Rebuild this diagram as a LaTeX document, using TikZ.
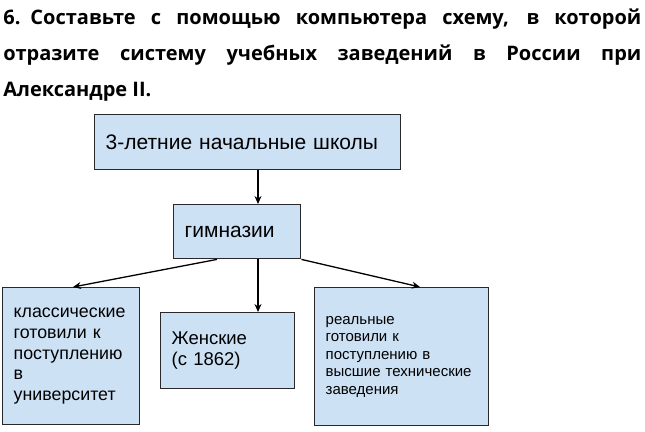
\documentclass[tikz,border=0pt]{standalone}
\usepackage{fontspec}
\setmainfont{Liberation Sans}
\newfontfamily\titlefont{Open Sans}
\usetikzlibrary{arrows.meta}

\tikzset{every picture/.style={line width=0.75pt}}
\definecolor{boxblue}{RGB}{205,225,245}
\definecolor{boxline}{RGB}{40,40,45}
\tikzset{
    schoolbox/.style={draw=boxline, line width=1.4pt, fill=boxblue, anchor=north west,
        inner xsep=11pt, inner ysep=0pt, align=left},
    arr/.style={-{Stealth[length=8pt,width=7pt]}, line width=1.3pt, draw=black},
    titleline/.style={anchor=base west, inner sep=0pt, font=\titlefont\bfseries\fontsize{20}{24}\selectfont}
}

\begin{document}
\begin{tikzpicture}[x=1pt, y=-1pt]
    \useasboundingbox (0,0) rectangle (645,431);
    % task text
    \node[titleline] (t1) at (3,24) {\makebox[638pt][s]{6.\hspace{10pt}Составьте с помощью компьютера схему, в которой}};
    \node[titleline] (t2) at (3,60) {\makebox[638pt][s]{отразите систему учебных заведений в России при}};
    \node[titleline] (t3) at (3,96) {Александре II.};
    % boxes
    \node[schoolbox, text width=284pt, minimum height=55pt, font=\fontsize{21}{24}\selectfont] (b1) at (94,114) {3-летние начальные школы};
    \node[schoolbox, text width=105pt, minimum height=54pt, font=\fontsize{21}{24}\selectfont] (b2) at (173,204) {гимназии};
    \node[schoolbox, text width=115pt, minimum height=137pt, font=\fontsize{17.8}{20.6}\selectfont] (b3) at (2,287) {классические\\готовили к\\поступлению\\в\\университет};
    \node[schoolbox, text width=112pt, minimum height=76pt, font=\fontsize{18.5}{20.5}\selectfont] (b4) at (160,312) {Женские\\(с 1862)};
    \node[schoolbox, text width=152pt, minimum height=138pt, font=\fontsize{15}{17.5}\selectfont] (b5) at (314,287) {реальные\\готовили к\\поступлению в\\высшие технические\\заведения};
    % arrows
    \coordinate (mid) at (258,0);
    \draw[arr] (b1.south -| mid) -- (b2.north -| mid);
    \draw[arr] (b2.south -| mid) -- (b4.north -| mid);
    \draw[arr] ([xshift=44pt]b2.south west) -- ([xshift=71pt]b3.north west);
    \draw[arr] (b2.south east) -- ([xshift=106pt]b5.north west);
\end{tikzpicture}
\end{document}
